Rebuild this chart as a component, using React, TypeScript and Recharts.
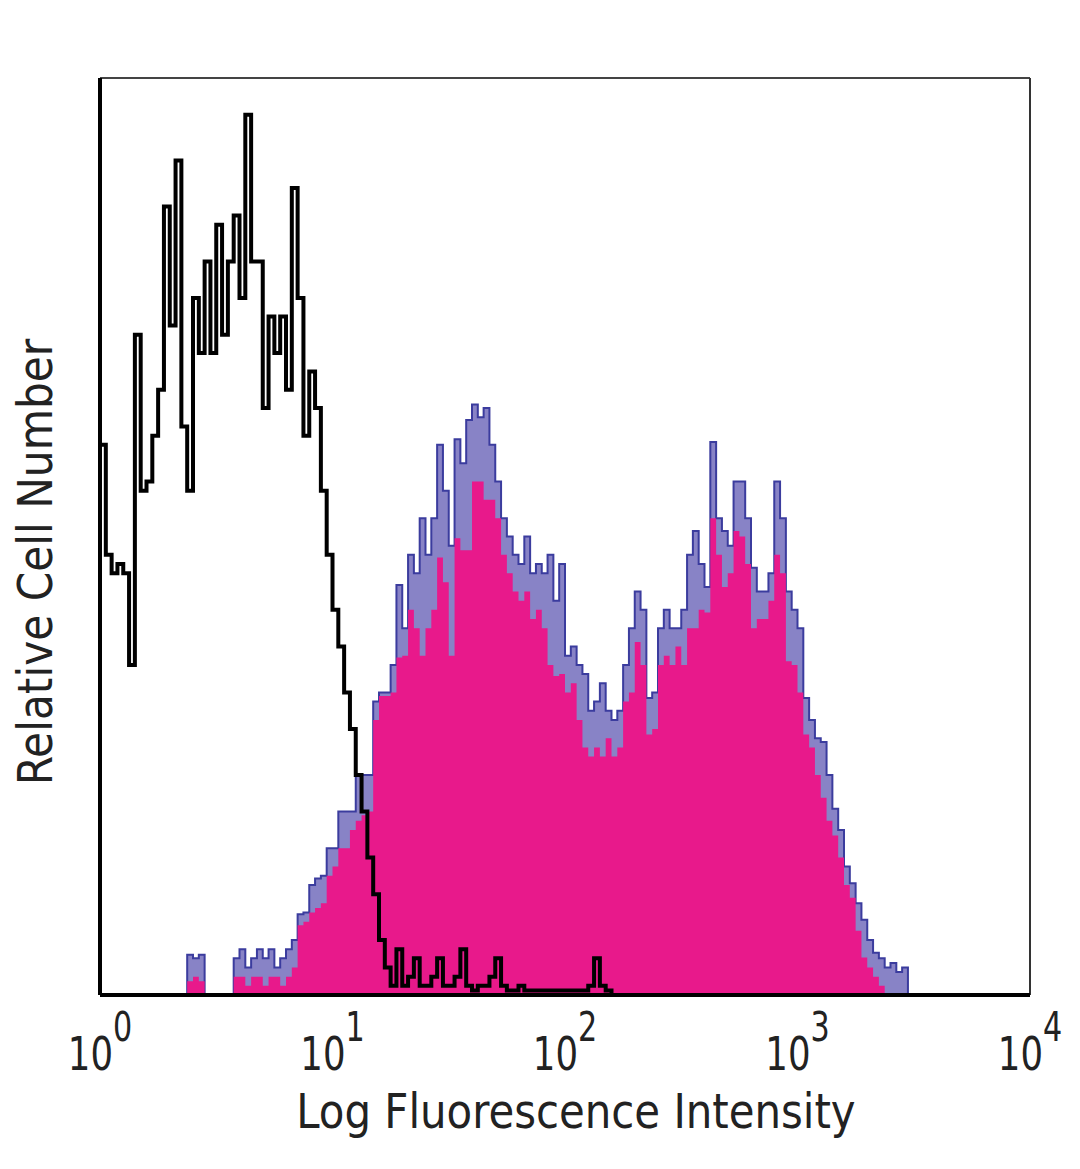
import React from 'react';
import { ComposedChart, Area, Line, XAxis, YAxis, ReferenceLine, Label } from 'recharts';

// Histogram channels: each channel spans BIN_WIDTH decades of log10 intensity
const BIN_WIDTH = 0.025;
const NUM_BINS = 160;
const DECADE_TICKS = [0, 1, 2, 3, 4];
const X_TITLE = 'Log Fluorescence Intensity';
const Y_TITLE = 'Relative Cell Number';

// Isotype control (black open histogram), channels 0..87
const isotypeCounts = [
  60, 48, 46, 47, 46, 36, 72, 55, 56, 61,
  66, 86, 73, 91, 62, 55, 76, 70, 80, 70,
  84, 72, 80, 85, 76, 96, 80, 80, 64, 74,
  70, 74, 66, 88, 76, 61, 68, 64, 55, 48,
  42, 38, 33, 29, 24, 20, 15, 11, 6, 3,
  1, 5, 1, 2, 4, 1, 1, 2, 4, 1,
  1, 2, 5, 1, 0.5, 1, 1, 2, 4, 1,
  0.5, 0.5, 1, 0.5, 0.5, 0.5, 0.5, 0.5, 0.5, 0.5,
  0.5, 0.5, 0.5, 0.5, 1, 4, 1, 0.5,
];

// Stained sample, outline peaks (blue), channels 0..139
const stainedPeakCounts = [
  0, 0, 0, 0, 0, 0, 0, 0, 0, 0,
  0, 0, 0, 0, 0, 4.4, 4, 4.4, 0, 0,
  0, 0, 0, 4, 5, 3, 4, 5, 4, 5,
  3, 4, 5, 6, 8.8, 9, 12, 12.7, 13, 16,
  16, 20, 20, 20, 24, 24, 24, 32, 33, 33,
  36, 44.7, 40, 48, 46, 52, 48, 52, 60, 55,
  49, 60.6, 58, 62.7, 64.4, 63, 64, 60, 56, 52,
  50, 48, 47, 50, 46, 47, 46, 48, 43, 47,
  37, 38, 36, 35, 31, 32, 34, 31, 30, 31,
  36, 40, 44, 42, 32.4, 33, 40, 42, 40, 40,
  42, 48, 50.6, 47, 44.5, 60.3, 52, 50.6, 49, 56,
  56, 52, 46.6, 44, 44, 46, 56, 52, 44, 42,
  40, 32.4, 30, 28, 27.6, 24, 20.3, 18, 14, 12.2,
  10, 8.2, 6, 4.6, 4, 3, 3.5, 2.5, 3, 0,
];

// Stained sample, filled body (pink), channels 0..134
const stainedFillCounts = [
  0, 0, 0, 0, 0, 0, 0, 0, 0, 0,
  0, 0, 0, 0, 0, 1.5, 2, 1.5, 0, 0,
  0, 0, 0, 2, 2, 1, 2, 2, 1, 2,
  2, 1, 2, 3, 7.6, 8, 9, 9.5, 10, 13,
  14, 16, 16, 18, 19, 19.6, 20, 30, 32.6, 32.6,
  33, 36.8, 37, 42, 40, 37, 40, 42, 47.7, 45,
  37, 49.8, 48.5, 48.5, 56, 56, 54, 54, 52, 48,
  46, 44, 43, 44, 41, 42, 40, 36, 34.8, 35,
  33, 34, 30, 27, 26, 27, 26, 28, 26, 27,
  32, 33, 38.5, 36, 28.4, 29, 36, 37, 36, 38,
  36, 40, 40, 42, 41.7, 52, 48, 44.5, 46, 50.6,
  50, 47, 40, 41, 41, 43, 48, 46, 36.4, 36,
  33, 28.4, 27, 24, 21.5, 19, 17.4, 15, 12, 10.6,
  7, 4.1, 3, 2, 1,
];

const data = Array.from({ length: NUM_BINS + 1 }, (_, i) => ({
  logI: i * BIN_WIDTH,
  isotype: isotypeCounts[i] ?? 0,
  peak: stainedPeakCounts[i] ?? 0,
  fill: stainedFillCounts[i] ?? 0,
}));

const FONT = "'DejaVu Sans Condensed', 'Liberation Sans', sans-serif";

const PowerTick = (props: any) => {
  const { x, y, payload } = props;
  return (
    <g transform={`translate(${x}, ${y + 75}) scale(0.84, 1)`}>
      <text x={0} y={0} textAnchor="middle" fill="#222" fontFamily={FONT} fontSize={47}>
        <tspan>10</tspan>
        <tspan dy={-29} fontSize={40}>{payload.value}</tspan>
      </text>
    </g>
  );
};

const XTitle = () => (
  <g transform="translate(576, 1128) scale(0.97, 1)">
    <text x={0} y={0} textAnchor="middle" fill="#222" fontFamily={FONT} fontSize={48}>
      {X_TITLE}
    </text>
  </g>
);

const YTitle = () => (
  <g transform="translate(52, 562) rotate(-90) scale(0.98, 1)">
    <text x={0} y={0} textAnchor="middle" fill="#222" fontFamily={FONT} fontSize={48}>
      {Y_TITLE}
    </text>
  </g>
);

export default function App() {
  return (
    <div style={{ position: 'absolute', left: 0, top: 0, width: 1080, height: 1169, background: '#fff' }}>
      <ComposedChart
        width={1080}
        height={1169}
        data={data}
        margin={{ top: 78, right: 50, bottom: 54, left: 0 }}
      >
        <XAxis
          dataKey="logI"
          type="number"
          domain={[0, 4]}
          ticks={DECADE_TICKS}
          tick={<PowerTick />}
          tickLine={false}
          tickSize={0}
          tickMargin={0}
          height={120}
          axisLine={{ stroke: '#000', strokeWidth: 4 }}
          allowDataOverflow
        >
          <Label content={<XTitle />} />
        </XAxis>
        <YAxis
          type="number"
          domain={[0, 100]}
          tick={false}
          tickLine={false}
          width={100}
          axisLine={{ stroke: '#000', strokeWidth: 4 }}
          allowDataOverflow
        >
          <Label content={<YTitle />} />
        </YAxis>
        <ReferenceLine y={100} stroke="#444" strokeWidth={2} />
        <ReferenceLine x={4} stroke="#333" strokeWidth={2} />
        <Area
          type="stepAfter"
          dataKey="peak"
          stroke="#3b3c9e"
          strokeWidth={2}
          fill="#6a64b8"
          fillOpacity={0.8}
          dot={false}
          activeDot={false}
          isAnimationActive={false}
        />
        <Area
          type="stepAfter"
          dataKey="fill"
          stroke="none"
          fill="#e8198b"
          fillOpacity={1}
          dot={false}
          activeDot={false}
          isAnimationActive={false}
        />
        <Line
          type="stepAfter"
          dataKey="isotype"
          stroke="#000"
          strokeWidth={4}
          dot={false}
          activeDot={false}
          isAnimationActive={false}
        />
      </ComposedChart>
    </div>
  );
}
